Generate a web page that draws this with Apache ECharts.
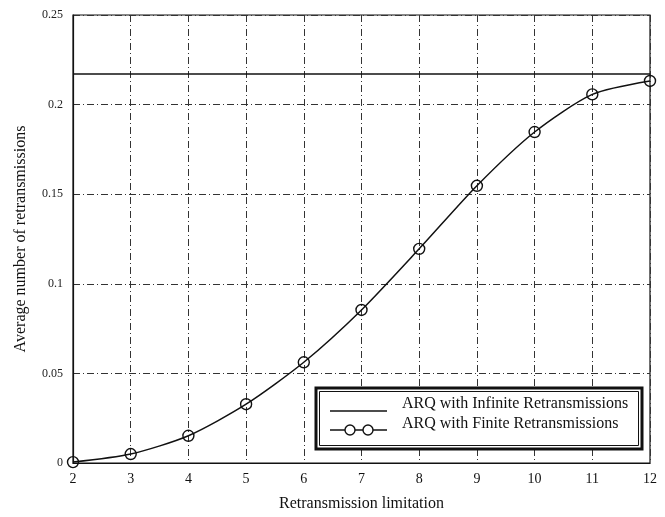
<!DOCTYPE html>
<html>
<head>
<meta charset="utf-8">
<script src="https://cdn.jsdelivr.net/npm/echarts@6/dist/echarts.min.js"></script>
<style>html,body{margin:0;padding:0;background:#fff}#c{width:665px;height:517px}</style>
</head>
<body>
<div id="c"></div>
<script>
var limits = [2, 3, 4, 5, 6, 7, 8, 9, 10, 11, 12];
var finiteValues = [0.0005, 0.005, 0.0152, 0.0328, 0.0562, 0.0854, 0.1195, 0.1547, 0.1847, 0.2057, 0.2132];
var infiniteValue = 0.2171;
var yTicks = [0, 0.05, 0.1, 0.15, 0.2, 0.25];
var seriesNames = ['ARQ with Infinite Retransmissions', 'ARQ with Finite Retransmissions'];

var font = 'Liberation Serif';
var gridLine = {show: true, lineStyle: {color: '#333', width: 1, type: [7, 3, 1, 3]}};
var chart = echarts.init(document.getElementById('c'));
var legendText = {fontFamily: font, fontSize: 16, fill: '#111', textVerticalAlign: 'middle'};
var Z = 100;
chart.setOption({
  animation: false,
  backgroundColor: '#fff',
  grid: {left: 73, right: 15, top: 15, bottom: 54, show: true, borderColor: '#111', borderWidth: 1.2, backgroundColor: 'transparent'},
  xAxis: {
    type: 'value', min: limits[0], max: limits[limits.length - 1], interval: 1,
    name: 'Retransmission limitation', nameLocation: 'middle', nameGap: 33,
    nameTextStyle: {fontFamily: font, fontSize: 16, color: '#111'},
    axisLine: {show: true, lineStyle: {color: '#111', width: 1.2}},
    axisTick: {show: false},
    axisLabel: {fontFamily: font, fontSize: 14, color: '#111', margin: 9},
    splitLine: gridLine
  },
  yAxis: {
    type: 'value', min: yTicks[0], max: yTicks[yTicks.length - 1], interval: 0.05,
    name: 'Average number of retransmissions', nameLocation: 'middle', nameGap: 44,
    nameTextStyle: {fontFamily: font, fontSize: 16, color: '#111'},
    axisLine: {show: true, lineStyle: {color: '#111', width: 1.2}},
    axisTick: {show: false},
    axisLabel: {fontFamily: font, fontSize: 12, color: '#222', margin: 10,
      formatter: function (v) { return String(+v.toFixed(2)); }},
    splitLine: gridLine
  },
  graphic: [
    {type: 'rect', z: Z, shape: {x: 316, y: 388, width: 326, height: 61}, style: {fill: '#fff', stroke: '#111', lineWidth: 3}},
    {type: 'rect', z: Z + 1, shape: {x: 319.5, y: 391.5, width: 319, height: 54}, style: {fill: 'none', stroke: '#111', lineWidth: 1}},
    {type: 'line', z: Z + 1, shape: {x1: 330, y1: 411, x2: 387, y2: 411}, style: {stroke: '#111', lineWidth: 1.3}},
    {type: 'text', z: Z + 1, x: 402, y: 404, style: Object.assign({text: seriesNames[0]}, legendText)},
    {type: 'line', z: Z + 1, shape: {x1: 330, y1: 430, x2: 387, y2: 430}, style: {stroke: '#111', lineWidth: 1.3}},
    {type: 'circle', z: Z + 2, shape: {cx: 350, cy: 430, r: 5}, style: {fill: '#fff', stroke: '#111', lineWidth: 1.4}},
    {type: 'circle', z: Z + 2, shape: {cx: 368, cy: 430, r: 5}, style: {fill: '#fff', stroke: '#111', lineWidth: 1.4}},
    {type: 'text', z: Z + 1, x: 402, y: 424, style: Object.assign({text: seriesNames[1]}, legendText)}
  ],
  series: [
    {
      name: seriesNames[0], type: 'line', symbol: 'none',
      data: [[limits[0], infiniteValue], [limits[limits.length - 1], infiniteValue]],
      lineStyle: {color: '#111', width: 1.5}, itemStyle: {color: '#111'}, z: 3
    },
    {
      name: seriesNames[1], type: 'line', smooth: 0.25,
      symbol: 'circle', symbolSize: 11,
      data: limits.map(function (x, i) { return [x, finiteValues[i]]; }),
      lineStyle: {color: '#111', width: 1.5},
      itemStyle: {color: 'rgba(255,255,255,0)', borderColor: '#111', borderWidth: 1.4}, z: 4
    }
  ]
});
</script>
</body>
</html>
